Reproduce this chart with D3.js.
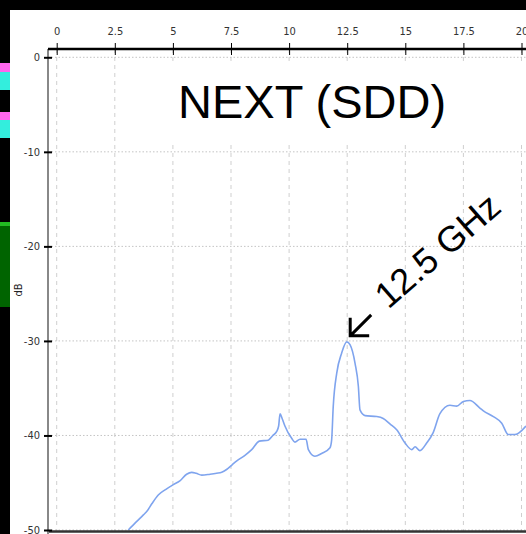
<!DOCTYPE html>
<html><head><meta charset="utf-8">
<script src="https://cdn.jsdelivr.net/npm/d3@7"></script>
<style>
html,body{margin:0;padding:0;background:#000;}
svg{display:block;}
</style></head>
<body>
<svg id="chart" width="526" height="534"></svg>
<script>
// ---- data ----
const xTickValues = [0, 2.5, 5, 7.5, 10, 12.5, 15, 17.5, 20];
const yTickValues = [0, -10, -20, -30, -40, -50];
const titleText = "NEXT (SDD)";
const yLabel = "dB";
const annotationText = "12.5 GHz";
const annotationFreq = 12.5;
const annotationDb = -30.1;
const freqGHz = [3.08, 3.4, 3.73, 3.89, 4.1, 4.37, 4.7, 5.02, 5.3, 5.59, 5.81, 6.0, 6.24, 6.6, 6.88, 7.1, 7.31, 7.55, 7.75, 8.1, 8.39, 8.72, 9.1, 9.3, 9.46, 9.55, 9.61, 9.7, 9.82, 10.11, 10.25, 10.47, 10.73, 10.83, 11.11, 11.4, 11.76, 11.83, 11.9, 12.05, 12.26, 12.48, 12.62, 12.84, 12.98, 13.05, 13.27, 13.77, 14.05, 14.35, 14.63, 14.99, 15.28, 15.42, 15.63, 15.92, 16.2, 16.49, 16.92, 17.21, 17.5, 17.78, 18.21, 18.36, 18.79, 19.15, 19.43, 19.72, 20.19];
const sddDb =   [-50.0, -49.2, -48.4, -48.0, -47.2, -46.3, -45.7, -45.2, -44.8, -44.1, -43.9, -44.0, -44.2, -44.1, -44.0, -43.9, -43.6, -43.1, -42.7, -42.1, -41.5, -40.6, -40.5, -40.0, -39.6, -39.0, -37.7, -38.2, -39.0, -40.3, -40.7, -40.4, -40.4, -41.5, -42.2, -41.9, -41.3, -40.5, -36.9, -33.4, -31.3, -30.1, -30.4, -32.4, -34.8, -37.3, -37.9, -38.0, -38.2, -38.8, -39.4, -40.8, -41.5, -41.2, -41.6, -40.8, -39.7, -37.7, -36.8, -36.9, -36.4, -36.3, -37.1, -37.4, -38.0, -38.7, -39.9, -39.9, -39.0];

// ---- drawing ----
const svg = d3.select("#chart");
const W = 526, H = 534;

// background (black frame with cropped neighbouring-slide strip on the left)
svg.append("rect").attr("width", W).attr("height", H).attr("fill", "#000");
svg.append("rect").attr("x", 10).attr("y", 10).attr("width", W - 10).attr("height", H - 10).attr("fill", "#fff");
const strip = [
  {y: 63, h: 9, c: "#ff66ee"}, {y: 72, h: 18, c: "#33eedd"},
  {y: 112, h: 8, c: "#ff66ee"}, {y: 120, h: 18, c: "#33eedd"},
  {y: 222, h: 4, c: "#22bb22"}, {y: 226, h: 81, c: "#006400"}
];
svg.selectAll("rect.strip").data(strip).join("rect").attr("class", "strip")
  .attr("x", 0).attr("y", d => d.y).attr("width", 10).attr("height", d => d.h).attr("fill", d => d.c);

const x = d3.scaleLinear().domain([0, 20]).range([56.7, 521.5]);
const y = d3.scaleLinear().domain([0, -50]).range([57.3, 530]);
const axisX = 48, axisTopY = 49, bottomY = 531;

// grid
svg.append("g").selectAll("line").data(xTickValues).join("line")
  .attr("x1", d => x(d)).attr("x2", d => x(d)).attr("y1", axisTopY).attr("y2", bottomY)
  .attr("stroke", "#cfcfcf").attr("stroke-width", 1).attr("stroke-dasharray", "4,4");
svg.append("g").selectAll("line").data(yTickValues).join("line")
  .attr("x1", axisX).attr("x2", W).attr("y1", d => y(d)).attr("y2", d => y(d))
  .attr("stroke", "#c4c4c4").attr("stroke-width", 1).attr("stroke-dasharray", "1.5,2");

// title with white box
svg.append("rect").attr("x", 140).attr("y", 62).attr("width", W - 140).attr("height", 79).attr("fill", "#fff");
svg.append("text").attr("x", 178).attr("y", 118).text(titleText)
  .attr("font-family", "Liberation Sans, Arial, sans-serif").attr("font-size", 47).attr("fill", "#000");

// curve
const line = d3.line().x((d, i) => x(freqGHz[i])).y(d => y(d)).curve(d3.curveMonotoneX);
svg.append("path").attr("d", line(sddDb)).attr("fill", "none")
  .attr("stroke", "#7fa4ee").attr("stroke-width", 1.6);

// bottom line
svg.append("line").attr("x1", axisX).attr("x2", W).attr("y1", bottomY + 0.5).attr("y2", bottomY + 0.5)
  .attr("stroke", "#333").attr("stroke-width", 2.5);

// left axis
const ya = svg.append("g").attr("transform", `translate(${axisX},0)`)
  .call(d3.axisLeft(y).tickValues(yTickValues).tickFormat(d => String(d)).tickSize(4).tickPadding(4));
ya.select(".domain").attr("d", `M0,${axisTopY}V${H}`).attr("stroke", "#888").attr("stroke-width", 2);
ya.selectAll(".tick line").attr("x1", 4).attr("x2", -4).attr("stroke", "#000").attr("stroke-width", 2);
ya.selectAll(".tick text").attr("font-family", "Liberation Sans Narrow, DejaVu Sans Condensed, sans-serif")
  .attr("font-size", 11).attr("fill", "#333").attr("x", -8);

// top axis
const xa = svg.append("g").attr("transform", `translate(0,${axisTopY})`)
  .call(d3.axisTop(x).tickValues(xTickValues).tickFormat(d => String(d)).tickSize(6).tickPadding(8));
xa.select(".domain").attr("d", `M${axisX},0H${W}`).attr("stroke", "#000").attr("stroke-width", 2.5);
xa.selectAll(".tick line").attr("y1", 6).attr("y2", -6).attr("stroke", "#000").attr("stroke-width", 1);
xa.selectAll(".tick text").attr("font-family", "Liberation Sans Narrow, DejaVu Sans Condensed, sans-serif")
  .attr("font-size", 11).attr("fill", "#333");

// y label
svg.append("text").attr("transform", "translate(22,290) rotate(-90)").attr("text-anchor", "middle")
  .attr("font-family", "Liberation Sans Narrow, DejaVu Sans Condensed, sans-serif").attr("font-size", 11)
  .attr("fill", "#222").text(yLabel);

// annotation arrow + rotated text
const tipX = x(annotationFreq) + 3, tipY = y(annotationDb) - 6;
const arrow = svg.append("g").attr("transform", `translate(${tipX},${tipY})`);
arrow.append("path").attr("d", "M21,-21L0,0M0,-18L0,0L19,0").attr("fill", "none")
  .attr("stroke", "#000").attr("stroke-width", 3);
svg.append("text").attr("transform", `translate(${tipX + 38},${tipY - 26}) rotate(-41)`)
  .attr("font-family", "Liberation Sans, Arial, sans-serif").attr("font-size", 36).attr("fill", "#000")
  .text(annotationText);
</script>
</body></html>
